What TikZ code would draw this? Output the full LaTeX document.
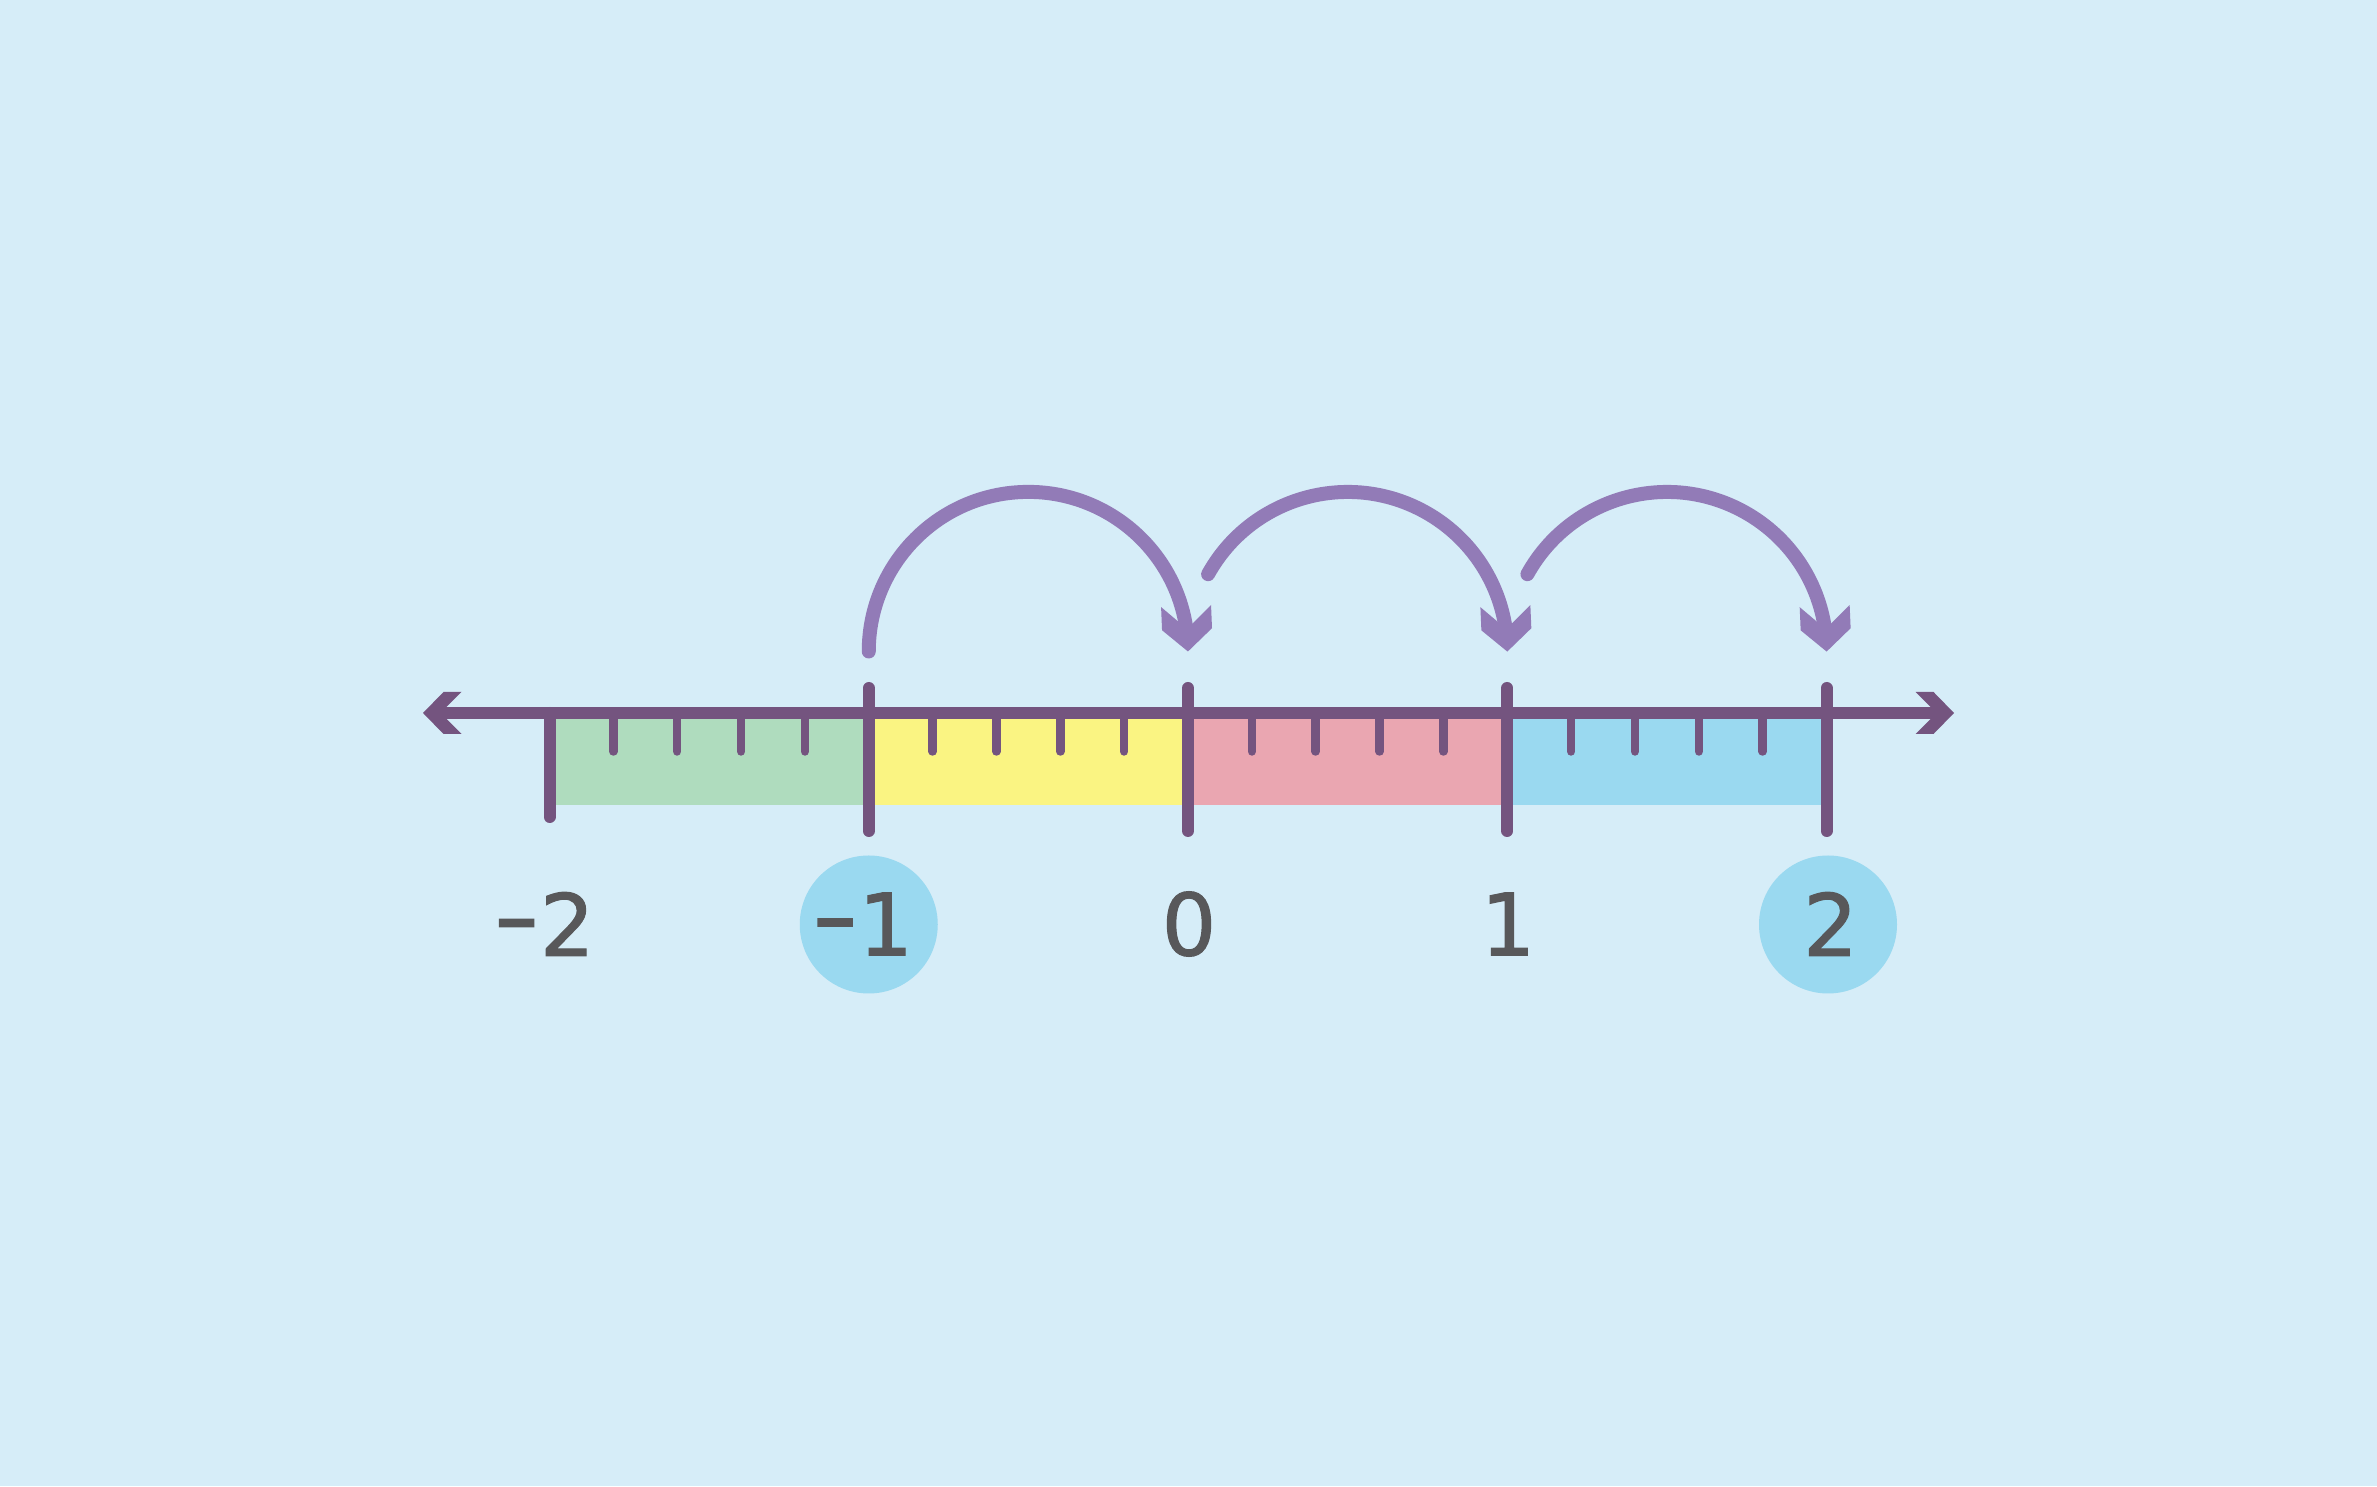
\documentclass[tikz,border=0pt]{standalone}
\usepackage{fontspec}
\usetikzlibrary{bending}
\newfontfamily\labfont[FakeBold=1.2]{DejaVu Sans}
\definecolor{bgcol}{RGB}{214,237,248}
\definecolor{axiscol}{RGB}{116,84,127}
\definecolor{arccol}{RGB}{146,123,183}
\definecolor{greenfill}{RGB}{175,220,190}
\definecolor{yellowfill}{RGB}{250,244,130}
\definecolor{pinkfill}{RGB}{234,166,177}
\definecolor{bluefill}{RGB}{154,217,240}
\definecolor{labcol}{RGB}{88,88,90}

\newcommand{\mydash}{\raisebox{7pt}{\scalebox{1.5}[1.1]{-}}}

\pgfdeclarearrow{
  name = AxisChev,
  setup code = {
    \pgfarrowssettipend{0pt}
    \pgfarrowssetlineend{-17pt}
    \pgfarrowssetvisualbackend{-38.5pt}
    \pgfarrowssetbackend{-38.5pt}
    \pgfarrowshullpoint{0pt}{0pt}
    \pgfarrowshullpoint{-38.5pt}{21pt}
    \pgfarrowshullpoint{-38.5pt}{-21pt}
  },
  drawing code = {
    \pgfsetfillcolor{axiscol}
    \pgfpathmoveto{\pgfpoint{0pt}{0pt}}
    \pgfpathlineto{\pgfpoint{-20.5pt}{21pt}}
    \pgfpathlineto{\pgfpoint{-38.5pt}{21pt}}
    \pgfpathlineto{\pgfpoint{-17.5pt}{0pt}}
    \pgfpathlineto{\pgfpoint{-38.5pt}{-21pt}}
    \pgfpathlineto{\pgfpoint{-20.5pt}{-21pt}}
    \pgfpathclose
    \pgfusepathqfill
  }
}

\pgfdeclarearrow{
  name = ArcChev,
  setup code = {
    \pgfarrowssettipend{0pt}
    \pgfarrowssetlineend{-22pt}
    \pgfarrowssetvisualbackend{-45.5pt}
    \pgfarrowssetbackend{-45.5pt}
    \pgfarrowshullpoint{0pt}{0pt}
    \pgfarrowshullpoint{-45.5pt}{25pt}
    \pgfarrowshullpoint{-45.5pt}{-25pt}
  },
  drawing code = {
    \pgfsetfillcolor{arccol}
    \pgfpathmoveto{\pgfpoint{0pt}{0pt}}
    \pgfpathlineto{\pgfpoint{-22.3pt}{25pt}}
    \pgfpathlineto{\pgfpoint{-45.5pt}{25pt}}
    \pgfpathlineto{\pgfpoint{-22.5pt}{0pt}}
    \pgfpathlineto{\pgfpoint{-45.5pt}{-25pt}}
    \pgfpathlineto{\pgfpoint{-22.3pt}{-25pt}}
    \pgfpathclose
    \pgfusepathqfill
  }
}

\begin{document}
\begin{tikzpicture}[x=1pt,y=1pt,
  majortick/.style={draw=axiscol, line width=12pt, line cap=round},
  minortick/.style={draw=axiscol, line width=8.5pt, line cap=round},
  axisline/.style={draw=axiscol, line width=12.5pt, {AxisChev}-{AxisChev}},
  hop/.style={draw=arccol, line width=14pt, line cap=round, -{ArcChev[flex=0.3]}},
  marker/.style={circle, fill=bluefill, minimum size=138pt, inner sep=0pt},
  numlabel/.style={text=labcol, inner sep=0pt, font=\labfont\fontsize{86}{86}\selectfont},
]
\useasboundingbox (0,0) rectangle (2377,1486);
\fill[bgcol] (0,0) rectangle (2377,1486);

% integer positions on the axis
\coordinate (n-2) at (549.5,773);
\coordinate (n-1) at (868.75,773);
\coordinate (n0) at (1188,773);
\coordinate (n1) at (1507.25,773);
\coordinate (n2) at (1826.5,773);
\coordinate (axL) at (423,773);
\coordinate (axR) at (1954,773);

% coloured unit strips
\fill[greenfill] (549.5,681) rectangle (868.75,773);
\fill[yellowfill] (868.75,681) rectangle (1188,773);
\fill[pinkfill] (1188,681) rectangle (1507.25,773);
\fill[bluefill] (1507.25,681) rectangle (1826.5,773);

% minor ticks
\foreach \s in {549.5,868.75,1188,1507.25}{
  \foreach \k in {1,2,3,4}{
    \draw[minortick] (\s+63.85*\k,773) -- (\s+63.85*\k,734.5);
  }
}

% major ticks
\draw[majortick] (n-2) -- ([yshift=-104pt]n-2);
\foreach \n in {n-1,n0,n1,n2}{
  \draw[majortick] ([yshift=25pt]\n) -- ([yshift=-118pt]\n);
}

% axis
\draw[axisline] (axL) -- (axR);

% hops
\coordinate (h1) at (868.75,834.5);
\coordinate (h2) at (1208.1,911.8);
\coordinate (h3) at (1527.4,911.8);
\draw[hop] (h1) arc[start angle=180, end angle=0, radius=159.6];
\draw[hop] (h2) arc[start angle=151, end angle=0, radius=159.6];
\draw[hop] (h3) arc[start angle=151, end angle=0, radius=159.6];

% highlighted numbers
\node[marker] (cm1) at (868.75,561.5) {};
\node[marker] (c2) at (1828,561.5) {};

% labels
\node[numlabel] (lm2) at (544,562) {\mydash2};
\node[numlabel] (lm1) at (862.5,562) {\mydash1};
\node[numlabel] (l0) at (1189,562) {0};
\node[numlabel] (l1) at (1508,562) {1};
\node[numlabel] (l2) at (1830.5,562) {2};
\end{tikzpicture}
\end{document}
